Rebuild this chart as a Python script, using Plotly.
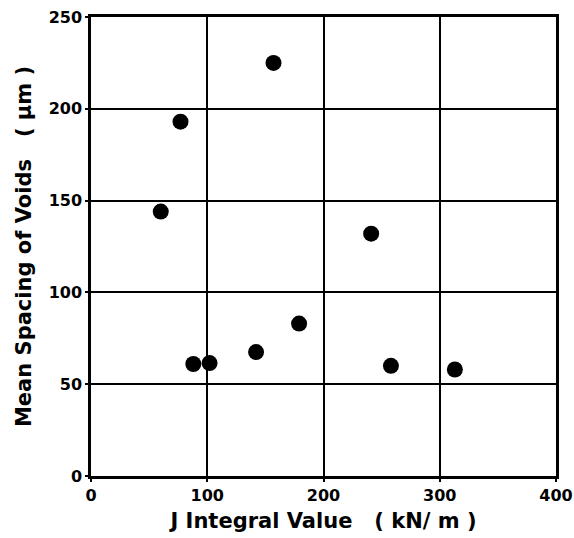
import plotly.graph_objects as go

j_integral = [60, 77, 157, 88, 102, 142, 179, 241, 258, 313]
mean_spacing = [144, 193, 225, 61, 61.5, 67.5, 83, 132, 60, 58]

x_ticks = [0, 100, 200, 300, 400]
y_ticks = [0, 50, 100, 150, 200, 250]

font_family = "DejaVu Sans"

fig = go.Figure()
fig.add_trace(go.Scatter(
    x=j_integral, y=mean_spacing, mode="markers",
    marker=dict(color="black", size=16, line=dict(width=0)),
    showlegend=False,
))

axis_common = dict(
    showline=True, linecolor="black", linewidth=2.5, mirror=True,
    showgrid=True, gridcolor="black", gridwidth=1.5,
    zeroline=False, ticks="outside", ticklen=3, tickcolor="black", tickwidth=1.5,
    tickfont=dict(family=font_family, size=16, color="black", weight="bold"),
    automargin=False,
)

fig.update_xaxes(
    range=[0, 400], tickvals=x_ticks,
    title=dict(text="J Integral Value   ( kN/ m )", standoff=10,
               font=dict(family=font_family, size=21, color="black", weight="bold")),
    **axis_common,
)
fig.update_yaxes(
    range=[0, 250], tickvals=y_ticks,
    title=dict(text="Mean Spacing of Voids   ( μm )", standoff=12,
               font=dict(family=font_family, size=21, color="black", weight="bold")),
    **axis_common,
)

fig.update_layout(
    width=574, height=538,
    margin=dict(l=91, r=18, t=17, b=62),
    paper_bgcolor="white", plot_bgcolor="white",
)

fig.write_html("out.html")
